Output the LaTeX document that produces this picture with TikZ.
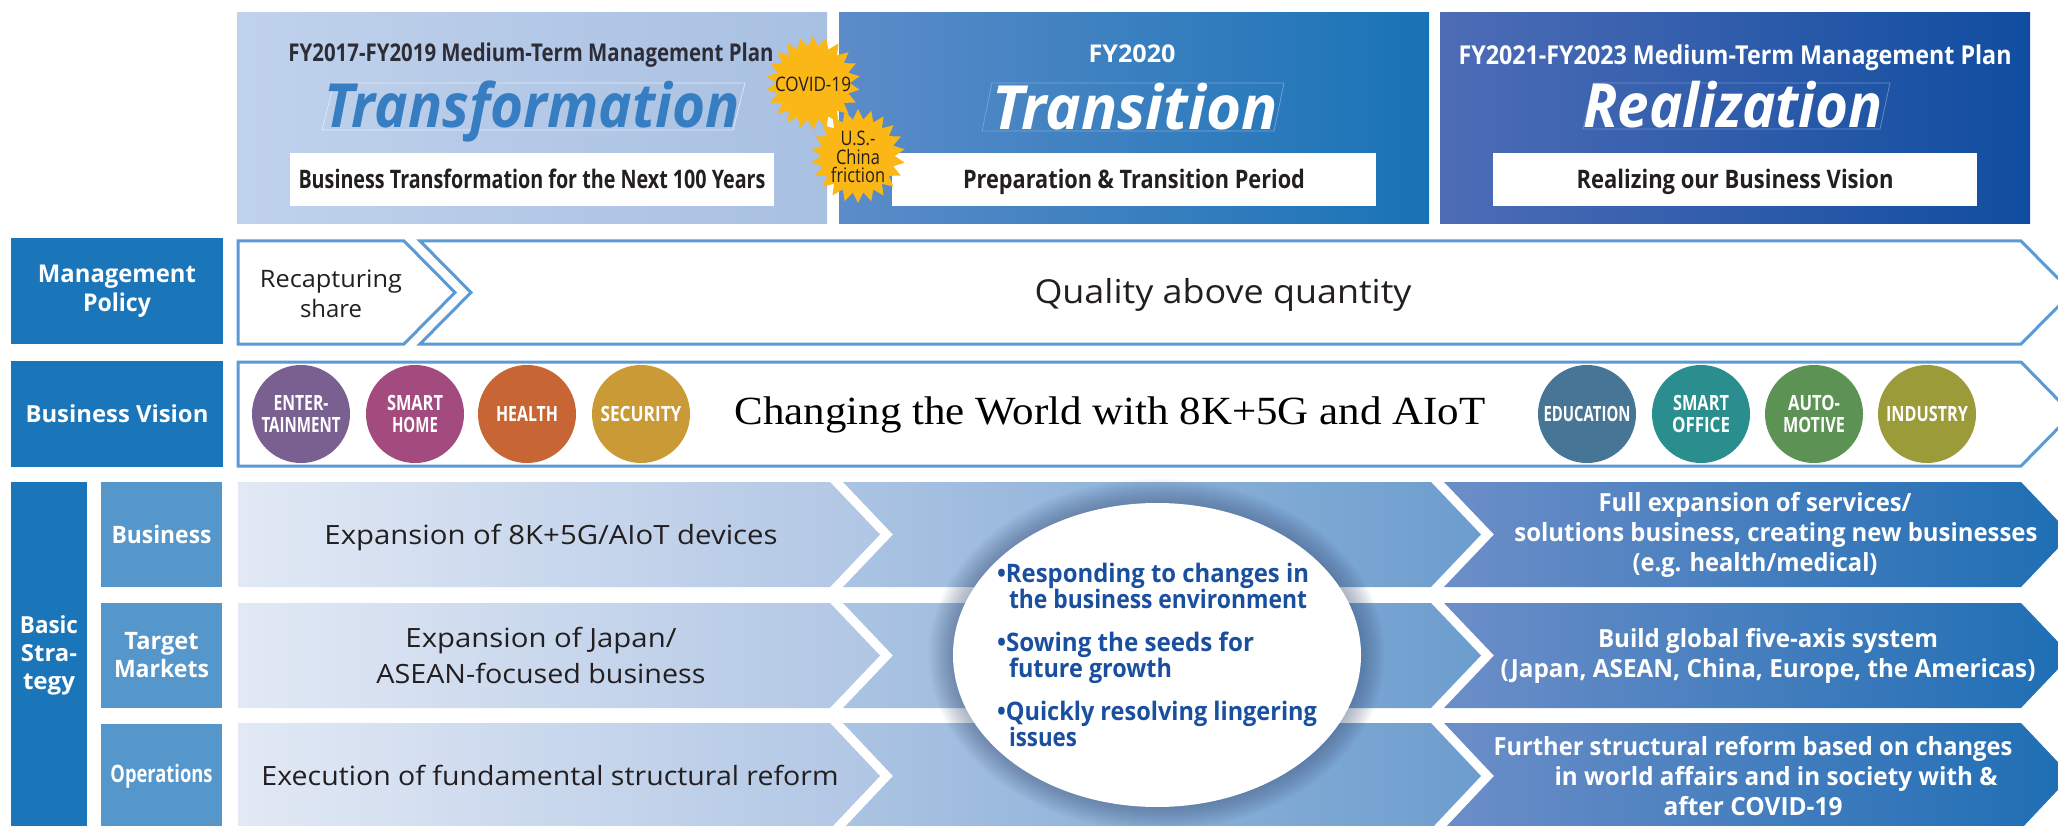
\documentclass[tikz,border=0pt]{standalone}
\usepackage{fontspec}
\usepackage{graphicx}
\usetikzlibrary{shapes.geometric}
\newfontfamily\fr{Open Sans}
\newfontfamily\frc[FakeStretch=0.82]{Open Sans}
\newfontfamily\gar{Liberation Serif}
\newcommand\fitw[2]{\resizebox{#1pt}{\height}{#2}}
\newcommand\fsz[2]{\fontsize{#1pt}{#2pt}\selectfont}
\definecolor{navy}{RGB}{27,117,185}
\definecolor{subc}{RGB}{85,150,203}
\definecolor{outl}{RGB}{91,155,213}
\definecolor{tdark}{RGB}{35,31,32}
\definecolor{hdark}{RGB}{45,45,55}
\definecolor{pal}{RGB}{192,210,236}
\definecolor{par}{RGB}{168,192,226}
\definecolor{pbl}{RGB}{92,140,201}
\definecolor{pbr}{RGB}{24,115,182}
\definecolor{pcl}{RGB}{78,108,182}
\definecolor{pcr}{RGB}{16,77,160}
\definecolor{sal}{RGB}{226,233,245}
\definecolor{sar}{RGB}{176,198,228}
\definecolor{sbl}{RGB}{172,196,227}
\definecolor{sbr}{RGB}{108,157,206}
\definecolor{scl}{RGB}{108,142,200}
\definecolor{scr}{RGB}{30,110,180}
\definecolor{starc}{RGB}{251,183,22}
\definecolor{etext}{RGB}{26,79,160}
\definecolor{tblue}{RGB}{55,125,194}
\definecolor{glowc}{RGB}{50,70,110}
\definecolor{cent}{RGB}{122,95,145}
\definecolor{chome}{RGB}{163,74,126}
\definecolor{cheal}{RGB}{199,102,52}
\definecolor{csec}{RGB}{201,154,54}
\definecolor{cedu}{RGB}{70,117,150}
\definecolor{coff}{RGB}{42,142,142}
\definecolor{cauto}{RGB}{93,146,85}
\definecolor{cind}{RGB}{156,155,58}
\begin{document}
\begin{tikzpicture}[x=1pt,y=-1pt,
 panel/.style={rectangle, inner sep=0pt, minimum width=590pt, minimum height=211pt},
 wbox/.style={rectangle, fill=white, inner sep=0pt, minimum width=484pt, minimum height=53pt, font=\frc\bfseries\fsz{25.5}{30}, text=tdark, text height=18pt, text depth=0pt},
 hd/.style={inner sep=0pt, anchor=base, font=\frc\bfseries\fsz{24.5}{28}},
 ttl/.style={inner sep=0pt, anchor=base, font=\fr\bfseries\itshape\fsz{61}{60}},
 frame/.style={line width=0.7pt},
 burst/.style={star, star points=22, star point ratio=1.28, fill=starc, minimum size=94pt, inner sep=0pt},
 bursttxt/.style={inner sep=0pt, align=center, font=\frc\fsz{20}{18.5}, text=tdark},
 navybox/.style={rectangle, fill=navy, inner sep=0pt, text=white, align=center},
 subbox/.style={rectangle, fill=subc, inner sep=0pt, text=white, align=center, minimum width=121pt, font=\frc\bfseries\fsz{24}{28}},
 chev/.style={draw=outl, line width=3pt, fill=white, line join=miter},
 circ/.style={circle, minimum size=98pt, inner sep=0pt, text=white, align=center, font=\frc\bfseries\fsz{21}{22}},
 segtxt/.style={inner sep=0pt, align=center, font=\fr\fsz{26.5}{36}, text=tdark},
 seg3txt/.style={inner sep=0pt, align=center, font=\frc\bfseries\fsz{25}{30}, text=white}]
\useasboundingbox (0,0) rectangle (2058,826);
\clip (0,0) rectangle (2058,826);
\fill[white] (0,0) rectangle (2058,826);

% header panels
\node[panel, left color=pal, right color=par] (p1) at (532,118.5) {};
\node[panel, left color=pbl, right color=pbr] (p2) at (1134,118.5) {};
\node[panel, left color=pcl, right color=pcr] (p3) at (1735,118.5) {};

\draw[frame, draw=white!55!pal] (322,130)--(334,83)--(745,83)--(733,130)--cycle;
\draw[frame, draw={rgb,255:red,120;green,165;blue,215}] (982,131)--(992,83)--(1284,83)--(1274,131)--cycle;
\draw[frame, draw={rgb,255:red,110;green,140;blue,205}] (1583,129)--(1594,83)--(1890,83)--(1880,129)--cycle;

\node[hd, text=hdark] (h1) at (531,62) {\fitw{485}{FY2017-FY2019 Medium-Term Management Plan}};
\node[ttl, text=tblue] (t1) at (532,128) {\fitw{415}{Transformation}};
\node[wbox] (b1) at (532,179.5) {\fitw{467}{Business Transformation for the Next 100 Years}};
\node[hd, text=white] (h2) at (1132,63) {\fitw{87}{FY2020}};
\node[ttl, text=white] (t2) at (1135,130) {\fitw{285}{Transition}};
\node[wbox] (b2) at (1134,179.5) {\fitw{342}{Preparation \& Transition Period}};
\node[hd, text=white, font=\frc\bfseries\fsz{26}{30}] (h3) at (1735,65) {\fitw{553}{FY2021-FY2023 Medium-Term Management Plan}};
\node[ttl, text=white] (t3) at (1733,128) {\fitw{299}{Realization}};
\node[wbox] (b3) at (1735,179.5) {\fitw{317}{Realizing our Business Vision}};

% bursts
\node[burst] (covid) at (813,83) {};
\node[bursttxt, text height=14pt, text depth=0pt] (covidt) at (813,85) {\fitw{76}{COVID-19}};
\node[burst] (usc) at (858,156) {};
\node[bursttxt] (usct) at (858,157) {U.S.-\\China\\friction};

% left column
\node[navybox, minimum width=212pt, minimum height=105pt, font=\fr\bfseries\fsz{24.5}{29}] (mp) at (117,291) {\fitw{158}{Management}\\\fitw{68}{Policy}};
\node[navybox, minimum width=212pt, minimum height=106pt, font=\fr\bfseries\fsz{23.5}{28}] (bv) at (117,414) {\fitw{183}{Business Vision}};
\node[navybox, minimum width=76pt, minimum height=347pt, font=\frc\bfseries\fsz{23.5}{28}] (bs) at (49,655.5) {\fitw{58}{Basic}\\\fitw{56}{Stra-}\\\fitw{52}{tegy}};
\node[subbox, minimum height=105pt] (sbus) at (161.5,534.5) {\fitw{100}{Business}};
\node[subbox, minimum height=105pt] (stm) at (161.5,655.5) {\fitw{74}{Target}\\\fitw{95}{Markets}};
\node[subbox, minimum height=106pt] (sop) at (161.5,776.5) {\fitw{102}{Operations}};

% management policy row
\draw[chev] (238,241) -- (404,241) -- (455,292.5) -- (404,344) -- (238,344) -- cycle;
\draw[chev] (420,241) -- (2021,241) -- (2072,292.5) -- (2021,344) -- (420,344) -- (471,292.5) -- cycle;
\node[inner sep=0pt, align=center, font=\fr\fsz{24}{30}, text=tdark] (recap) at (331,294) {\fitw{142}{Recapturing}\\\fitw{62}{share}};
\node[inner sep=0pt, anchor=base, font=\fr\fsz{33}{38}, text=tdark] (qual) at (1223,304) {\fitw{377}{Quality above quantity}};

% business vision row
\draw[chev] (238,362) -- (2021,362) -- (2072,414) -- (2021,466) -- (238,466) -- cycle;
\node[circ, fill=cent] (c1) at (301,414) {\fitw{55}{ENTER-}\\\fitw{79}{TAINMENT}};
\node[circ, fill=chome] (c2) at (415,414) {\fitw{56}{SMART}\\\fitw{46}{HOME}};
\node[circ, fill=cheal, text height=15pt, text depth=0pt] (c3) at (527,414) {\fitw{62}{HEALTH}};
\node[circ, fill=csec, text height=15pt, text depth=0pt] (c4) at (641,414) {\fitw{81}{SECURITY}};
\node[circ, fill=cedu, text height=15pt, text depth=0pt] (c5) at (1587,414) {\fitw{87}{EDUCATION}};
\node[circ, fill=coff] (c6) at (1701,414) {\fitw{56}{SMART}\\\fitw{58}{OFFICE}};
\node[circ, fill=cauto] (c7) at (1814,414) {\fitw{52}{AUTO-}\\\fitw{62}{MOTIVE}};
\node[circ, fill=cind, text height=15pt, text depth=0pt] (c8) at (1927,414) {\fitw{82}{INDUSTRY}};
\node[inner sep=0pt, anchor=base, font=\gar\fsz{40}{44}, text=black] (vision) at (1110,424) {\fitw{751}{Changing the World with 8K+5G and AIoT}};

% basic strategy band
\foreach \T/\M/\B in {482/534.5/587, 603/655.5/708, 723/776/829} {
 \shade[left color=sal, right color=sar] (238,\T) -- (830,\T) -- (880,\M) -- (830,\B) -- (238,\B) -- cycle;
 \shade[left color=sbl, right color=sbr] (843,\T) -- (1431,\T) -- (1481,\M) -- (1431,\B) -- (843,\B) -- (893,\M) -- cycle;
 \shade[left color=scl, right color=scr] (1444,\T) -- (2021,\T) -- (2071,\M) -- (2021,\B) -- (1444,\B) -- (1494,\M) -- cycle;
}

\node[segtxt, text height=19pt, text depth=0pt] (e1) at (551,534.5) {\fitw{453}{Expansion of 8K+5G/AIoT devices}};
\node[segtxt] (e2) at (541,655.5) {\fitw{271}{Expansion of Japan/}\\\fitw{329}{ASEAN-focused business}};
\node[segtxt, text height=19pt, text depth=0pt] (e3) at (550,776) {\fitw{577}{Execution of fundamental structural reform}};

\node[seg3txt] (f1) at (1755,534.5) {\fitw{313}{Full expansion of services/}\\\hspace*{42pt}\fitw{523}{solutions business, creating new businesses}\\\fitw{245}{(e.g. health/medical)}};
\node[seg3txt] (f2) at (1768,655.5) {\fitw{340}{Build global five-axis system}\\\fitw{535}{(Japan, ASEAN, China, Europe, the Americas)}};
\node[seg3txt] (f3) at (1753,776) {\fitw{519}{Further structural reform based on changes}\\\hspace*{46pt}\fitw{443}{in world affairs and in society with \&}\\\fitw{179}{after COVID-19}};

% central ellipse with glow
\foreach \k in {1,...,16} {
 \fill[glowc, opacity=0.028] (1157,655) ellipse [x radius={(204+1.5*\k)*1pt}, y radius={(152+1.5*\k)*1pt}];
}
\node[ellipse, fill=white, minimum width=408pt, minimum height=304pt, inner sep=0pt] (goals) at (1157,655) {};
\node[inner sep=0pt, align=left, font=\frc\bfseries\fsz{25.5}{26}, text=etext] (gt) at (goals.center) {\fitw{312}{•Responding to changes in}\\\hspace*{12pt}\fitw{298}{the business environment}\\[17pt]\fitw{257}{•Sowing the seeds for}\\\hspace*{12pt}\fitw{163}{future growth}\\[17pt]\fitw{320}{•Quickly resolving lingering}\\\hspace*{12pt}\fitw{68}{issues}};
\end{tikzpicture}
\end{document}
